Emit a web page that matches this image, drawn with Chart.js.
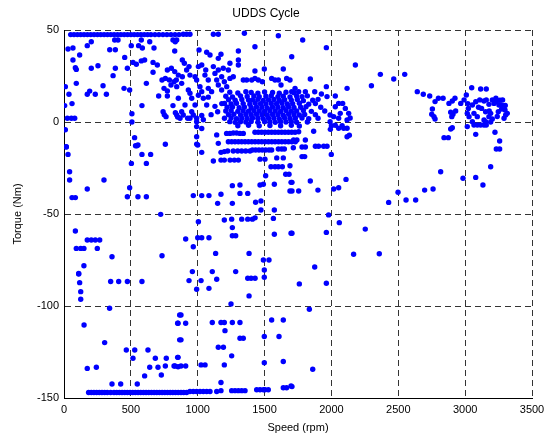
<!DOCTYPE html>
<html><head><meta charset="utf-8">
<script src="https://cdn.jsdelivr.net/npm/chart.js@4/dist/chart.umd.min.js"></script>
<style>html,body{margin:0;padding:0;background:#fff}canvas{display:block}</style>
</head><body>
<canvas id="c" width="547" height="441" style="width:547px;height:441px"></canvas>
<script>
// Speed (rpm), Torque (Nm) pairs
const topRow = [[50,47.5],[75,47.5],[100,47.5],[125,47.5],[150,47.5],[175,47.5],[200,47.5],[225,47.5],[250,47.5],[275,47.5],[300,47.5],[325,47.5],[350,47.5],[375,47.5],[400,47.5],[425,47.5],[450,47.5],[475,47.5],[500,47.5],[525,47.5],[550,47.5],[575,47.5],[600,47.5],[625,47.5],[650,47.5],[680,47.5],[710,47.5],[740,47.5],[770,47.5],[800,47.5],[830,47.5],[860,47.5],[892,47.7],[917,47.7],[942,47.7],[1117,47.7],[1154,47.7],[1349,48.2],[1603,46.9]];
const lowSpeedUpper = [[204,43.6],[379,44.6],[404,44.6],[578,44.6],[641,43.6],[815,44.6],[832,43.6],[30,39.7],[67,40.2],[174,41.5],[342,39.3],[384,39.3],[503,41.5],[558,41.5],[586,40.2],[673,40.2],[828,38.6],[117,36.4],[454,35.1],[67,33.7],[516,32.4],[541,31.4],[578,33.2],[603,33.7],[666,32.4],[698,31.0],[254,30.6],[204,29.2],[85,29.5],[92,28.6],[384,29.2],[474,29.2],[773,28.3],[803,29.2],[828,27.4],[367,25.2],[666,27.0],[733,22.8],[758,23.7],[788,22.8],[823,21.9],[840,22.8],[800,20.1],[92,21.0],[10,19.2],[292,19.7],[616,21.0],[449,18.3],[491,17.4],[748,18.3],[773,16.9],[192,16.8],[174,15.1],[37,15.1],[234,15.1],[317,15.1],[708,14.1],[773,14.1],[60,10.0],[5,8.9],[583,8.9],[815,8.9],[741,5.6],[750,4.0],[763,2.9],[508,4.5],[508,0],[833,5],[850,2.7],[25,2.0],[55,2.0],[80,2.0],[10,-4.2],[528,-8.5],[545,-12.9],[535,-12.9],[758,-12.1],[17,-13.6]];
const midSpeedUpper = [[843,44.6],[1428,40.9],[1703,35.5],[1010,39.1],[1067,37.9],[1092,36.4],[1174,36.8],[1154,34.6],[1304,38.6],[1304,33.7],[1241,31.9],[885,33.7],[900,31.9],[935,30.1],[917,28.3],[1005,30.1],[1030,31.0],[1060,28.3],[1117,30.1],[1154,28.3],[1191,29.2],[1229,28.3],[1304,31.0],[1428,27.7],[1498,28.8],[1640,28.8],[855,25.5],[885,24.6],[942,25.5],[980,24.6],[992,22.8],[1054,25.5],[1079,22.8],[1129,26.4],[1142,22.8],[1179,24.6],[1199,21.9],[1241,23.7],[1266,24.6],[1341,22.8],[1366,22.8],[1404,22.8],[1428,23.7],[1453,22.8],[1483,21.9],[1553,23.7],[1578,22.8],[1603,22.8],[1623,20.1],[1665,23.7],[1690,22.8],[1703,16.5],[1728,18.3],[1785,44.6],[1962,40.4],[2179,31.0],[2366,25.9],[2466,23.4],[2548,25.9],[2299,19.7],[1842,23.4],[2117,18.3],[1962,19.2],[2029,14.1]];
const midSpeedLow = [[843,19.2],[880,21.0],[930,17.4],[942,15.6],[1017,19.2],[1030,16.5],[1079,18.3],[1104,16.5],[1154,20.1],[1179,17.4],[1217,19.2],[855,12.9],[905,9.2],[955,12.9],[980,9.2],[1005,14.5],[1042,12.9],[1067,9.2],[1079,13.5],[1129,8.5],[1149,5.6],[880,5.6],[892,3.8],[955,5.6],[967,3.8],[992,2.0],[992,0.2],[1030,3.5],[1042,1.2],[942,2.0],[868,2.0],[843,3.8],[925,2.0],[1100,4.0],[1180,10.0]];
const denseCluster = [
[1240,16.2],[1300,15.8],[1360,16.4],[1400,16.0],[1450,15.7],[1500,16.3],[1560,16.0],[1610,15.6],[1660,16.2],[1720,15.9],[1755,16.5],[1805,16.5],[1875,16.4],[1925,15.2],
[1210,14.0],[1260,13.6],[1320,14.2],[1370,13.9],[1420,14.1],[1460,13.7],[1510,14.0],[1550,14.3],[1600,13.8],[1640,14.0],[1690,13.6],[1740,14.1],[1780,13.8],[1820,14.2],[1967,13.8],
[1230,12.1],[1280,11.8],[1330,12.2],[1380,11.9],[1410,12.0],[1450,12.3],[1490,11.7],[1530,12.0],[1570,12.2],[1610,11.8],[1650,12.1],[1700,11.9],[1745,12.2],[1790,11.6],[1860,11.8],[1900,12.3],
[1200,10.1],[1250,9.8],[1290,10.2],[1340,10.0],[1390,9.7],[1430,10.3],[1470,10.0],[1510,9.8],[1550,10.1],[1590,9.9],[1630,10.2],[1670,9.8],[1710,10.0],[1760,10.2],[1830,9.7],[1880,10.0],[2054,10.1],[2084,10.1],
[1220,8.0],[1260,8.2],[1310,7.8],[1350,8.1],[1400,7.9],[1440,8.2],[1480,8.0],[1520,7.7],[1560,8.1],[1600,8.0],[1640,7.8],[1680,8.2],[1720,7.9],[1770,8.0],[1810,8.3],[1920,8.0],[2029,8.3],[2104,7.4],
[1210,6.0],[1250,6.2],[1300,5.8],[1340,6.1],[1380,5.9],[1420,6.2],[1460,6.0],[1500,5.8],[1540,6.1],[1580,6.0],[1620,5.7],[1660,6.2],[1700,5.9],[1740,6.0],[1790,6.3],[1850,5.8],[1950,6.0],[2066,4.7],
[1230,4.0],[1270,4.2],[1320,3.8],[1360,4.1],[1400,3.9],[1440,4.2],[1480,4.0],[1520,3.8],[1560,4.1],[1600,4.0],[1640,3.7],[1680,4.2],[1720,4.0],[1760,3.8],[1800,4.1],[1880,4.0],[1990,3.8],[2129,4.7],
[1200,2.0],[1250,2.2],[1290,1.8],[1330,2.1],[1370,1.9],[1410,2.2],[1450,2.0],[1490,1.8],[1530,2.1],[1570,2.0],[1610,1.7],[1650,2.2],[1690,1.9],[1730,2.0],[1780,2.2],[1830,1.8],[1900,2.0],[2017,2.9],[2054,2.0],[2140,2.2],
[1240,0.2],[1280,-0.2],[1320,0.1],[1360,0.0],[1400,0.3],[1450,-0.1],[1500,0.2],[1540,0.0],[1580,-0.2],[1620,0.1],[1660,0.0],[1700,0.2],[1740,-0.1],[1820,0.0],[1990,0.2],[2117,1.1],
[1300,-2.0],[1380,-1.8],[1460,-2.1],[1540,-1.9],[1620,-2.0],[1700,-1.8],[1760,-2.2],[2000,-2.0],[2029,-1.8],[2080,-2.0]];
const midSpeedNeg = [[2054,-3.4],[2092,-3.4],[2117,-3.4],[1992,-4.0],[2117,-8.0],[2134,-7.2],[1755,-5.3],[1717,-9.8],[1742,-9.8],[1805,-9.8],[1867,-5.0],
[1216,-6.2],[1241,-6.2],[1266,-6.0],[1291,-6.0],[1316,-6.2],[1341,-6.2],[1428,-5.6],[1453,-5.6],[1478,-5.6],[1503,-5.6],[1528,-5.6],[1553,-5.6],[1578,-5.6],[1603,-5.6],[1628,-5.6],[1653,-5.6],[1678,-5.6],[1703,-5.6],[1728,-5.6],
[1229,-10.7],[1254,-10.7],[1279,-10.7],[1304,-10.7],[1329,-10.7],[1354,-10.7],[1379,-10.7],[1404,-10.7],[1429,-10.7],[1454,-10.7],[1479,-10.7],[1504,-10.7],[1529,-10.7],[1554,-10.7],[1579,-10.7],[1604,-10.7],[1629,-10.7],[1654,-10.7],[1679,-10.7],[1704,-10.7],[1730,-10.7],
[1174,-16.5],[1199,-16.1],[1224,-15.8],[1266,-15.8],[1299,-15.8],[1329,-15.8],[1359,-15.8],[1391,-15.8],[1409,-15.2],[1433,-15.2],[1458,-15.2],[1483,-15.2],[1508,-15.2],[1533,-15.2],[1553,-15.2],[1603,-14.7],[1628,-14.7],[1648,-14.7],[1715,-14.0],[1780,-13.6],[1805,-13.6],[1880,-13.2],[1904,-13.2],[1942,-13.2],[1967,-13.2],[1000,-12.5],[1030,-16.5],
[1117,-21.2],[1174,-20.7],[1199,-20.7],[1242,-20.7],[1274,-20.7],[1304,-20.7],[1466,-20.2],[1503,-20.2],[1591,-19.5],[1640,-19.5],[1780,-18.8],[1800,-18.8],[1999,-17.6],
[1548,-24.3],[1578,-24.3],[1603,-24.3],[1633,-24.3],[1690,-23.8],[1658,-28.4],[1683,-28.4],[1508,-29.2],[1698,-32.8],[1259,-34.6],[1316,-34.2],[1466,-34.2],[1491,-33.8],[1573,-33.8],[1690,-37.5],[967,-40],[1030,-40],[1084,-40],[1174,-39.3],[1316,-38.8],[1374,-38.8],[1149,-44.2],[1259,-44.2],[1433,-43.6],[1473,-42.9],[1473,-47.8],[1573,-47.8],[1199,-53.3],[1254,-52.8],[1329,-52.8],[1374,-52.8],[1409,-52.8],[1429,-52.1],[1566,-52.4],[1259,-57.4],[1005,-54.2],[910,-63.6],[1000,-62.9],[1030,-62.9],[1084,-62.9],[967,-67.8],[1259,-61.8],[1284,-61.8],[1573,-61.0],[1698,-60.5],[1134,-71.4],[1384,-71.4],[1491,-75],[1533,-75],
[992,-2.5],[1030,-3.5],[992,-8],[1142,-7],[1154,-11.6],[992,-12],
[1705,-32.8],[1705,-37.5],[1842,-32.1],[1755,-37.5],[1899,-37],[2017,-36.4],[2054,-35.7],[2109,-31.2],[2428,-43.7],[2498,-38.2],[2558,-42.4],[1979,-50.5],[2059,-54.7],[2253,-58.2],[1962,-60],[1705,-60.5],[2166,-71.9],[2358,-71.6],[1875,-78.8],
[1760,-88],[1962,-87.6],[1835,-101.8],[1860,-134.4],[1705,-143.8]];
const lowSpeedNeg = [[17,-13.4],[30,-17.6],[42,-27],[42,-31.5],[299,-31.5],[174,-36.4],[60,-41.1],[85,-41.1],[553,-12.5],[583,-17.6],[648,-17.6],[504,-22.5],[616,-22.5],[491,-35.7],[474,-40.6],[553,-40.6],[616,-40.6],[723,-50.2],[85,-59.2],[174,-64.1],[204,-64.1],[234,-64.1],[267,-64.1],[92,-68.7],[125,-68.7],[149,-68.7],[249,-68.7],[359,-73.2],[733,-72.7],[149,-78.1],[110,-82.3],
[110,-82.6],[117,-87.3],[125,-92.2],[125,-96.3],[349,-86.7],[409,-86.7],[474,-86.7],[583,-86.7],[341,-101.2],[150,-110.3],[304,-119.9],[466,-123.9],[529,-123.9],[516,-128.4],[628,-123.9],[174,-133.9],[242,-133.3],[683,-128.4],[765,-128.4],[853,-127.9],[641,-133.3],[703,-133.3],[758,-132.6],[823,-132.6],[853,-133],[603,-138],[728,-137.5],[359,-142.4],[424,-142.4],[548,-142.4],[853,-109.4],[865,-104.9],[865,-118.4],
[960,-81.3],[1109,-81.3],[1284,-81.3],[1498,-80.4],[935,-86.2],[1025,-86.2],[1142,-85.5],[992,-90.9],[1084,-90.4],[1374,-84.9],[1399,-84.9],[1429,-84.9],[1498,-84.4],[1384,-94.5],[1249,-98.9],[875,-104.9],[850,-109.4],[910,-109.4],[1109,-109],[1174,-109],[1199,-109],[1259,-109],[1316,-109],[1204,-113.4],[875,-118.4],[1316,-117.5],[1341,-117.5],[1154,-122.4],[1192,-122.4],[1254,-127.1],[850,-127.9],[830,-132.6],[875,-132.6],[910,-132.6],[1025,-132],[1055,-132],[1199,-132],[1553,-107.6],[1640,-107.6],[1498,-116.6],[1608,-116.6],[1498,-130.8],[1640,-130.2],[1174,-141.6]];
const bottomRow = [[184,-147],[204,-147],[224,-147],[244,-147],[264,-147],[284,-147],[304,-147],[324,-147],[349,-147],[374,-147],[394,-147],[414,-147],[434,-147],[454,-147],[474,-147],[494,-147],[514,-147],[534,-147],[554,-147],[574,-147],[594,-147],[614,-147],[634,-147],[654,-147],[674,-147],[694,-147],[714,-147],[734,-147],[754,-147],[774,-147],[794,-147],[814,-147],[834,-147],[854,-147],[875,-147],[895,-147],[917,-147],[942,-146.5],[967,-146.5],[992,-146.5],[1017,-146.5],[1042,-146.5],[1067,-146.5],[1092,-146.5],[1142,-146.5],[1174,-146],[1254,-146],[1279,-146],[1304,-146],[1329,-146],[1354,-146],[1441,-145.5],[1466,-145.5],[1491,-145.5],[1503,-145.5],[1528,-145.5],[1640,-144.4],[1665,-144.4],[1698,-143.5]];
const highSpeed = [[2642,16.5],[2687,15.1],[2735,14.1],[2800,12.9],[2835,12.9],[2775,11.1],[2755,7.1],[2750,4.2],[2767,2.9],[2775,1.6],[2879,10.1],[2904,11.4],[2924,12.9],[2892,5.3],[2909,4.2],[2929,6.0],[2900,2.9],[2967,10.1],[2992,12.0],[3009,14.7],[3049,18.6],[3116,17.9],[3158,17.9],[3024,7.4],[3016,4.7],[3029,2.9],[3054,9.2],[3079,11.0],[3109,12.0],[3141,11.4],[3158,12.0],[3178,9.6],[3203,12.0],[3216,10.1],[3233,11.0],[3253,9.2],[3273,9.2],[3298,6.5],[3303,3.8],[3291,2.0],[3191,4.7],[3178,2.9],[3153,5.6],[3123,7.4],[3066,4.7],[3091,2.9],[3141,1.1],[3153,0.2],[3054,0.2],[3203,1.6],[3248,5.6],[3273,7.1],[3315,4.7],[3020,10],[3100,8],[3180,6],[3240,3],[3280,12],[3300,9],[3230,13],[3260,11.8],
[2892,-3.8],[2904,-3.1],[2842,-8.5],[2874,-8.5],[3016,-2.5],[3066,-1.6],[3091,-1.6],[3116,-1.6],[3141,-1.6],[3158,-1.6],[3191,0],[3079,-6.7],[3223,-5.6],[3258,-10.3],
[2630,-42.4],[2697,-37],[2760,-36.4],[2817,-27],[2984,-30.6],[3079,-30.1],[3133,-34.2],[3191,-24.3],[3233,-14.7],[3258,-14.7]];

const xTicks = [0,500,1000,1500,2000,2500,3000,3500];
const yTicks = [-150,-100,-50,0,50];

const allPoints = [].concat(topRow, lowSpeedUpper, midSpeedUpper, midSpeedLow, denseCluster, midSpeedNeg, lowSpeedNeg, bottomRow, highSpeed)
  .map(p => ({x: p[0], y: p[1]}));

const FONT = "'Liberation Sans', Arial, Helvetica, sans-serif";
Chart.defaults.font.family = FONT;
Chart.defaults.color = '#000';

new Chart(document.getElementById('c'), {
  type: 'scatter',
  data: { datasets: [{ data: allPoints, backgroundColor: '#0000ff', borderColor: '#0000ff', pointRadius: 2.7, pointBorderWidth: 0, pointHoverRadius: 2.7 }] },
  options: {
    responsive: false, animation: false, devicePixelRatio: 1,
    layout: { padding: { left: 0, right: 15, top: 0, bottom: 0 } },
    plugins: {
      legend: { display: false }, tooltip: { enabled: false },
      title: { display: true, text: 'UDDS Cycle', color: '#000', font: { family: FONT, size: 12, weight: 'normal' }, padding: { top: 6, bottom: 9.6 } }
    },
    scales: {
      x: {
        type: 'linear', min: 0, max: 3500,
        afterBuildTicks: s => { s.ticks = xTicks.map(v => ({value: v})); },
        afterFit: s => { s.height = 43; s.paddingLeft = 0; s.paddingRight = 0; },
        ticks: { color: '#000', font: { size: 11 }, padding: 5, maxRotation: 0, callback: v => String(v) },
        grid: { color: '#333', lineWidth: 1, drawTicks: false },
        border: { display: true, color: '#000', width: 1, dash: [6, 4] },
        title: { display: true, text: 'Speed (rpm)', color: '#000', font: { size: 11 }, padding: { top: 0, bottom: 6.4 } }
      },
      y: {
        type: 'linear', min: -150, max: 50,
        afterBuildTicks: s => { s.ticks = yTicks.map(v => ({value: v})); },
        afterFit: s => { s.width = 64; s.paddingTop = 0; s.paddingBottom = 0; },
        ticks: { color: '#000', font: { size: 11 }, padding: 5, callback: v => String(v) },
        grid: { color: '#333', lineWidth: 1, drawTicks: false },
        border: { display: true, color: '#000', width: 1, dash: [6, 4] },
        title: { display: true, text: 'Torque (Nm)', color: '#000', font: { size: 11 }, padding: { top: 11.4, bottom: 0 } }
      }
    }
  }
});
</script>
</body></html>
